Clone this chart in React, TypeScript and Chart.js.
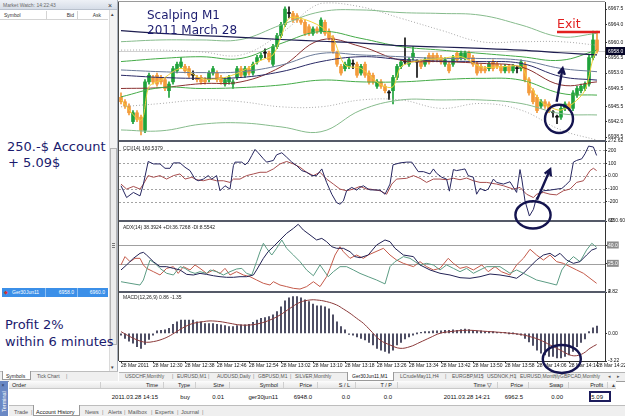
import React, { useEffect, useRef } from "react";
import { Chart, registerables } from "chart.js";

Chart.register(...registerables);

/* ================= data ================= */
// Ger30Jun11 M1 candles, bar 0 = 28 Mar 12:22
const opens = [
  6947.5, 6946.5, 6945.5, 6942.0, 6944.0, 6943.0, 6940.0, 6951.0, 6952.0, 6952.5,
  6952.0, 6951.5, 6949.0, 6951.0, 6953.5, 6954.5, 6954.5, 6954.0, 6952.5, 6952.0,
  6952.0, 6951.5, 6951.5, 6953.0, 6953.0, 6952.0, 6950.5, 6951.0, 6950.5, 6952.0,
  6954.0, 6952.5, 6954.0, 6953.0, 6955.5, 6956.5, 6957.5, 6957.5, 6955.0, 6959.0,
  6961.5, 6964.0, 6966.5, 6966.5, 6966.0, 6965.0, 6964.5, 6963.5, 6962.0, 6963.0,
  6962.5, 6964.5, 6962.5, 6961.0, 6957.5, 6954.5, 6954.0, 6954.5, 6955.0, 6955.0,
  6953.0, 6955.0, 6953.0, 6952.5, 6950.0, 6951.0, 6950.0, 6948.5, 6949.0, 6952.0,
  6954.5, 6955.5, 6955.0, 6956.5, 6955.5, 6955.5, 6955.0, 6957.0, 6957.0, 6957.0,
  6956.5, 6955.0, 6955.0, 6955.0, 6957.5, 6956.5, 6956.5, 6957.5, 6956.5, 6955.0,
  6954.5, 6954.0, 6954.0, 6955.5, 6955.0, 6954.5, 6953.5, 6954.5, 6953.5, 6954.0,
  6954.0, 6955.0, 6951.5, 6949.0, 6947.5, 6945.5, 6946.5, 6946.0, 6944.0, 6943.0,
  6943.0, 6945.0, 6946.0, 6945.0, 6948.0, 6949.0, 6949.5, 6950.5, 6956.5, 6960.5,
];
const highs = [
  6948.5, 6947.0, 6946.0, 6944.5, 6944.5, 6943.5, 6951.5, 6953.0, 6952.5, 6953.0,
  6952.5, 6952.0, 6951.0, 6954.5, 6955.5, 6956.5, 6955.0, 6954.5, 6953.5, 6952.5,
  6952.5, 6952.0, 6953.5, 6954.5, 6953.5, 6952.5, 6952.0, 6952.5, 6951.5, 6954.5,
  6954.5, 6954.5, 6954.5, 6955.5, 6957.0, 6957.5, 6958.5, 6958.0, 6959.5, 6962.0,
  6964.5, 6968.0, 6968.0, 6967.0, 6966.5, 6965.5, 6965.0, 6964.0, 6963.5, 6963.5,
  6965.5, 6965.0, 6963.0, 6961.5, 6958.0, 6955.0, 6955.5, 6956.5, 6956.0, 6955.5,
  6955.0, 6955.5, 6953.5, 6953.0, 6951.5, 6951.5, 6950.5, 6949.0, 6952.5, 6955.0,
  6956.0, 6961.0, 6956.5, 6959.0, 6956.0, 6956.0, 6956.5, 6957.5, 6957.5, 6957.5,
  6957.0, 6956.5, 6955.5, 6957.0, 6958.0, 6958.0, 6958.0, 6958.0, 6957.0, 6955.5,
  6955.0, 6954.5, 6955.5, 6956.0, 6955.5, 6955.0, 6955.0, 6955.0, 6955.0, 6954.5,
  6956.0, 6955.5, 6952.0, 6949.5, 6948.0, 6947.0, 6947.0, 6946.5, 6944.5, 6943.5,
  6945.5, 6946.5, 6946.5, 6949.0, 6950.0, 6950.5, 6951.0, 6957.0, 6962.5, 6962.5,
];
const lows = [
  6946.0, 6945.0, 6943.5, 6941.5, 6942.0, 6939.0, 6939.5, 6950.5, 6950.5, 6950.0,
  6950.5, 6949.0, 6947.5, 6950.5, 6953.0, 6954.0, 6953.0, 6952.0, 6951.5, 6951.0,
  6950.5, 6950.5, 6951.0, 6952.5, 6951.0, 6950.5, 6950.0, 6950.5, 6949.5, 6951.5,
  6952.0, 6952.0, 6952.5, 6952.5, 6955.0, 6956.0, 6956.5, 6955.5, 6954.5, 6958.5,
  6961.0, 6963.5, 6965.5, 6964.5, 6964.5, 6964.0, 6961.5, 6961.5, 6961.5, 6962.0,
  6962.0, 6961.5, 6960.5, 6957.5, 6954.5, 6952.5, 6953.5, 6954.0, 6954.0, 6952.0,
  6952.5, 6952.0, 6950.5, 6950.5, 6949.5, 6949.5, 6948.5, 6947.0, 6946.0, 6951.5,
  6954.0, 6955.0, 6954.5, 6956.0, 6952.0, 6954.0, 6954.5, 6955.0, 6955.5, 6955.5,
  6955.0, 6954.5, 6953.0, 6954.5, 6955.5, 6956.0, 6956.0, 6956.0, 6954.5, 6952.5,
  6953.0, 6953.0, 6953.5, 6953.5, 6954.0, 6953.0, 6953.0, 6953.0, 6953.0, 6953.0,
  6953.5, 6951.0, 6948.0, 6946.0, 6944.0, 6945.0, 6945.0, 6944.0, 6943.0, 6941.5,
  6942.5, 6944.5, 6944.5, 6944.5, 6947.5, 6948.5, 6949.0, 6950.0, 6956.0, 6957.5,
];
const closes = [
  6946.5, 6945.5, 6944.0, 6944.0, 6942.5, 6940.0, 6951.0, 6952.5, 6951.0, 6950.5,
  6951.0, 6949.5, 6950.5, 6954.0, 6955.0, 6955.5, 6953.5, 6952.5, 6952.5, 6951.5,
  6951.0, 6951.0, 6953.0, 6954.0, 6951.5, 6951.0, 6951.5, 6952.0, 6951.0, 6954.0,
  6952.5, 6954.0, 6953.0, 6955.0, 6956.5, 6957.0, 6957.5, 6956.0, 6959.0, 6961.5,
  6964.0, 6967.5, 6966.5, 6965.0, 6965.0, 6964.5, 6962.0, 6962.0, 6963.0, 6962.5,
  6965.0, 6962.0, 6961.0, 6958.0, 6955.0, 6953.0, 6955.0, 6956.0, 6955.0, 6952.5,
  6954.5, 6952.5, 6951.0, 6951.0, 6951.0, 6950.0, 6949.0, 6948.5, 6952.0, 6954.5,
  6955.5, 6955.5, 6956.0, 6957.5, 6955.5, 6954.5, 6956.0, 6955.5, 6956.0, 6956.0,
  6955.5, 6956.0, 6953.5, 6956.5, 6956.0, 6957.5, 6957.5, 6956.5, 6955.0, 6953.0,
  6953.5, 6953.5, 6955.0, 6954.0, 6954.5, 6953.5, 6954.5, 6953.5, 6954.5, 6954.0,
  6955.5, 6951.5, 6948.5, 6946.5, 6944.5, 6946.5, 6945.5, 6944.5, 6944.0, 6943.0,
  6945.0, 6946.0, 6945.0, 6948.5, 6949.5, 6950.0, 6950.5, 6956.5, 6960.5, 6958.0,
];
const bidPrice = 6958.0;

// price-pane indicator lines, sampled at these bars
const bandBars = [0, 10, 20, 30, 40, 50, 60, 70, 80, 90, 100, 110, 119];
const maSlow = [6962.6, 6962.0, 6961.5, 6961.1, 6960.6, 6960.2, 6959.8, 6959.2, 6958.9, 6958.6, 6958.2, 6957.6, 6957.1];
const bandOuterUp = [6960.1, 6960.5, 6960.5, 6960.6, 6963.9, 6966.9, 6967.3, 6966.7, 6966.5, 6966.1, 6963.9, 6961.2, 6962.0];
const bandInnerUp = [6955.6, 6956.3, 6956.7, 6956.3, 6959.7, 6962.4, 6960.85, 6959.0, 6958.2, 6957.45, 6956.7, 6955.9, 6958.2];
const bandInnerLow = [6947.6, 6949.7, 6949.5, 6949.7, 6950.3, 6951.4, 6951.0, 6951.0, 6951.5, 6951.8, 6951.4, 6948.4, 6948.0];
const bandOuterLow = [6940.1, 6939.9, 6941.4, 6941.7, 6940.8, 6939.7, 6944.6, 6946.9, 6946.9, 6946.9, 6946.1, 6943.8, 6943.5];
const envUp = [6958.2, 6958.2, 6957.8, 6957.1, 6962.0, 6968.8, 6968.0, 6965.4, 6962.7, 6960.1, 6960.1, 6960.1, 6959.3];
const envLow = [6945.35, 6946.1, 6946.9, 6946.5, 6945.35, 6945.35, 6946.9, 6946.9, 6945.0, 6946.1, 6944.6, 6940.1, 6937.8];
const maMid = [6952.5, 6952.0, 6951.8, 6952.0, 6953.3, 6955.6, 6956.7, 6956.1, 6955.7, 6955.6, 6955.2, 6952.2, 6951.4];
const maSlate = [6953.7, 6953.3, 6953.1, 6953.3, 6954.8, 6957.45, 6957.1, 6956.7, 6956.3, 6956.3, 6955.9, 6954.05, 6953.3];
const maMaroon = [6949.5, 6949.7, 6950.6, 6951.0, 6954.4, 6960.5, 6959.0, 6955.9, 6955.6, 6955.2, 6954.4, 6950.3, 6951.0];
const fastBars = [0, 5, 7, 10, 15, 20, 25, 30, 35, 38, 40, 42, 45, 50, 53, 56, 60, 65, 68, 70, 75, 80, 85, 90, 95, 100, 102, 105, 108, 110, 113, 116, 118, 119];
const fastMa = [6946.9, 6942.3, 6949.9, 6951.4, 6954.05, 6951.8, 6951.8, 6953.3, 6955.9, 6957.1, 6961.2, 6965.4, 6965.4, 6963.5, 6960.85, 6954.8, 6954.05, 6950.3, 6949.9, 6954.4, 6955.9, 6956.3, 6956.7, 6954.4, 6954.4, 6954.4, 6950.6, 6946.5, 6945.0, 6944.6, 6946.1, 6949.1, 6956.3, 6958.2];

// CCI(14) pane
const cciBars = [0, 1.4, 3.1, 4.75, 5.6, 6.8, 8.1, 9.75, 11, 12.25, 13.1, 14.75, 16, 17.25, 18.5, 19.3, 20.6, 21.8, 22.7, 23.9, 24.75, 26, 27.25, 28.1, 28.5, 30.2, 31, 31.8, 32.7, 33.5, 34.3, 35.6, 36.4, 38.1, 38.9, 40.2, 41.4, 42.7, 43.9, 45.2, 46.4, 47.7, 48.9, 50.2, 51.4, 52.7, 53.9, 54.75, 55.6, 56.4, 57.7, 58.9, 59.75, 60.6, 61.8, 62.25, 64.75, 66, 67.25, 68, 69.75, 71.4, 72.7, 74.3, 75.6, 77.25, 78.1, 78.9, 80.2, 81.4, 82.1, 83.1, 83.9, 85.2, 86, 86.8, 88.1, 88.9, 89.75, 91, 91.8, 93.1, 93.9, 95.6, 97.25, 98.9, 99.75, 100.2, 101, 102.1, 103.1, 103.9, 105.6, 107.25, 108.9, 110.2, 111, 112.25, 113.1, 113.9, 115.2, 116, 116.9, 118.1, 118.9];
const cciMain = [-76, -168, -128, -155, -63, 113, 94, 94, 60, 60, 102, 102, 68, 42, -24, -37, -24, 3, -24, 3, -115, -76, -102, 81, 108, 108, 87, 108, 160, 207, 181, 134, 108, 121, 165, 181, 147, 108, 81, 42, 29, 3, 3, 55, -50, -142, -207, -220, -194, -115, -89, -110, -89, -76, -102, -108, -110, -142, -63, 87, 102, 108, 108, 34, 34, 16, 55, 21, -10, -24, -118, 50, 42, 50, 55, 3, -10, -142, -97, -115, -102, -24, -50, -63, -45, -128, 50, -24, -194, -312, -260, -168, -115, -110, -102, -97, -76, -37, 108, 121, 134, 173, 233, 226, 160];
const cciSignalBars = [0, 1.4, 3.1, 4.75, 5.6, 6.8, 8.1, 9.75, 11.4, 13.1, 14.75, 16, 17.7, 18.9, 20.6, 22.25, 23.9, 25.6, 27.25, 28.1, 29.75, 31.4, 33.1, 34.75, 36.4, 38.1, 39.75, 41.4, 43.1, 44.75, 46.4, 48.1, 49.75, 51.4, 53.1, 54.75, 56.4, 58.1, 59.75, 61.4, 62.25, 64.75, 66.4, 67.7, 68.9, 71.4, 73.1, 74.75, 76.4, 78.1, 79.75, 81.4, 83.1, 84.75, 86.4, 88.1, 89.75, 91.4, 93.9, 95.6, 98.1, 99.75, 101.4, 103.1, 103.9, 105.6, 107.25, 108.9, 110.6, 112.25, 113.9, 115.6, 117.25, 118.1, 118.9];
const cciSignal = [-63, -102, -81, -102, -63, 3, -10, 3, -24, 3, 16, -24, -10, -29, -37, -24, -37, -37, -50, -24, -24, 3, 16, 29, 29, 55, 94, 113, 94, 68, 29, 3, 29, -24, -63, -102, -115, -102, -81, -102, -102, -115, -142, -63, -24, -18, 3, -18, -50, -24, -24, -29, -18, -29, -16, -37, -50, -50, -63, -76, -102, -89, -142, -168, -142, -128, -142, -147, -115, -102, -50, -37, 42, 60, 42];
const cciTicks = [272.62, 200, 100, 0, -100, -200, -350.602];
const cciTickLabels = ["272.62", "200", "100", "0.00", "-100", "-200", "-350.602"];
const cciLevels = [200, 100, 0, -100, -200];

// ADX(14) pane
const adxBars = [0, 1.4, 3.1, 4.75, 5.6, 6.4, 8.1, 9.75, 11.4, 13.1, 14.75, 16.4, 18.1, 19.75, 21.4, 23.1, 24.75, 26.4, 28.1, 29.75, 31.4, 33.1, 33.9, 35.6, 36.8, 38.1, 39.75, 41.4, 43.1, 44.3, 45.6, 47.25, 48.9, 50.2, 51.4, 52.7, 53.9, 55.6, 57.25, 58.5, 59.75, 61.8, 63.9, 66, 67.25, 68.5, 70.6, 73.1, 74.75, 77.25, 79.75, 82.25, 84.75, 87.25, 89.75, 92.25, 94.75, 97.25, 98.9, 100.6, 102.25, 103.9, 105.6, 107.25, 108.5, 109.75, 111.4, 113.1, 114.75, 116.4, 117.7, 118.9];
const adxMain = [20.0, 24.1, 29.5, 33.6, 34.4, 32.2, 26.8, 22.7, 22.7, 21.3, 20.0, 16.4, 15.9, 17.2, 16.4, 15.3, 14.5, 14.0, 14.0, 14.5, 14.5, 15.9, 20.0, 29.5, 35.0, 39.0, 44.5, 49.9, 54.0, 57.3, 52.6, 48.6, 44.5, 45.8, 43.1, 39.0, 37.7, 37.7, 34.9, 30.9, 30.0, 32.2, 40.4, 44.5, 43.1, 37.7, 32.2, 30.9, 24.1, 20.0, 17.3, 15.9, 13.7, 13.2, 14.5, 16.7, 15.9, 14.5, 13.2, 17.3, 22.7, 28.1, 32.2, 33.6, 30.9, 33.6, 28.1, 25.4, 26.8, 32.2, 36.3, 37.7];
const plusDiBars = [0, 2.25, 4.75, 5.6, 6.4, 7.25, 8.5, 9.75, 11.4, 13.1, 14.75, 16, 17.25, 18.5, 19.75, 21.4, 22.25, 23.9, 25.6, 27.25, 28.9, 30.2, 31.4, 32.7, 33.9, 34.75, 35.6, 36.4, 37.7, 38.9, 40.2, 41.4, 43.1, 44.75, 46.4, 48.1, 49.75, 51.8, 53.1, 54.75, 56.4, 58.1, 59.75, 61.8, 63.9, 66, 67.25, 68.5, 70.6, 72.25, 74.75, 76.4, 78.1, 79.75, 81.4, 83.1, 84.75, 86.4, 88.1, 91.4, 94.75, 97.25, 98.9, 100.6, 103.9, 107.25, 108.9, 110.2, 111.4, 113.1, 114.75, 116.4, 117.7, 118.9];
const plusDi = [10.4, 9.1, 7.7, 11.8, 20.0, 28.1, 25.4, 21.3, 17.3, 15.9, 22.7, 21.3, 18.6, 17.2, 18.6, 17.2, 20.0, 18.6, 15.9, 18.6, 20.8, 21.3, 17.2, 15.9, 26.8, 34.9, 41.8, 37.7, 32.2, 37.7, 44.5, 37.7, 32.2, 26.8, 20.0, 15.3, 24.1, 14.5, 18.6, 22.7, 22.7, 20.0, 17.2, 14.5, 11.8, 8.6, 22.7, 26.8, 30.9, 29.5, 24.1, 25.4, 24.1, 20.0, 24.1, 21.3, 18.6, 21.3, 17.3, 22.7, 22.7, 17.3, 20.0, 17.3, 11.8, 9.1, 7.7, 20.0, 25.4, 30.9, 26.8, 36.3, 41.8, 38.5];
const minusDiBars = [0, 1, 2.25, 3.5, 4.75, 5.6, 6.4, 8.1, 9.75, 11.4, 13.1, 14.3, 15.6, 17.25, 18.5, 19.75, 21.4, 23.1, 24.75, 26, 27.25, 28.9, 30.6, 32.25, 33.9, 35.6, 37.25, 38.1, 39.75, 41.4, 43.1, 44.75, 46.4, 48.1, 49.75, 51.4, 52.25, 53.5, 54.75, 55.6, 57.25, 58.9, 60.6, 61.8, 65.6, 67.25, 68.9, 70.6, 73.1, 74.75, 76.4, 78.1, 79.75, 81.8, 83.1, 84.75, 86.4, 88.1, 90.2, 91.8, 93.5, 95.1, 97.25, 98.9, 100.6, 102.25, 103.9, 105.6, 107.25, 108.9, 110.6, 112.25, 113.9, 115.6, 117.25, 118.9];
const minusDi = [24.1, 30.9, 26.8, 29.5, 29.5, 24.1, 21.3, 18.6, 15.9, 21.3, 22.7, 17.2, 22.7, 20.0, 24.1, 21.3, 17.2, 20.0, 17.2, 21.3, 15.9, 18.6, 15.9, 14.5, 11.8, 9.1, 7.7, 10.4, 7.7, 6.4, 5.0, 4.4, 6.4, 10.4, 6.4, 14.5, 21.3, 32.2, 39.0, 34.9, 29.5, 32.2, 29.5, 32.2, 37.7, 32.2, 28.1, 25.4, 22.7, 26.8, 22.7, 20.0, 21.3, 29.5, 25.4, 21.3, 22.7, 20.0, 24.1, 18.6, 22.7, 18.6, 15.9, 24.1, 29.5, 36.9, 32.2, 28.1, 32.2, 26.8, 25.4, 22.7, 20.0, 17.3, 13.2, 9.1];
const adxTicks = [60, 40, 25, 2];
const adxTickLabels = ["60", "40.0", "25.0", "2"];
const adxLevels = [40, 25];

// MACD(12,26,9) pane
const macdHist = [
  -0.2, -0.6, -0.9, -1.15, -1.55, -1.75, -1.3, -0.7, -0.2, 0.3,
  0.35, 0.4, 0.6, 1.05, 1.35, 1.55, 1.55, 1.55, 1.55, 1.35,
  1.35, 1.15, 1.15, 1.15, 1.05, 1.0, 0.9, 0.8, 0.8, 0.9,
  1.0, 1.0, 1.05, 1.3, 1.55, 1.75, 1.85, 1.95, 2.15, 2.55,
  3.1, 3.8, 4.15, 4.3, 4.3, 4.15, 3.9, 3.7, 3.4, 3.2,
  3.2, 3.1, 2.85, 2.15, 1.35, 0.8, 0.4, -0.1, -0.2, -0.4,
  -0.6, -0.75, -1.05, -1.35, -1.75, -1.95, -2.1, -2.3, -1.95, -1.35,
  -1.05, -0.65, -0.4, -0.2, 0, 0.1, 0.2, 0.2, 0.3, 0.3,
  0.3, 0.35, 0.35, 0.4, 0.35, 0.45, 0.5, 0.45, 0.35, 0.3,
  0.3, 0.2, 0.2, 0.2, 0.1, 0.1, 0.1, 0, 0, -0.1,
  -0.2, -0.6, -1.0, -1.4, -1.95, -2.3, -2.5, -2.7, -2.7, -2.85,
  -2.85, -2.7, -2.5, -2.1, -1.55, -1.05, -0.65, 0.2, 0.65, 0.86,
];
const signalBars = [0, 2.25, 4.75, 6.4, 8.1, 9.75, 11.8, 13.9, 16, 18.1, 20.6, 22.25, 24.75, 27.25, 29.75, 32.25, 34.75, 37.25, 39.75, 42.25, 44.75, 47.25, 48.9, 51.4, 53.9, 55.6, 57.25, 58.9, 60.6, 62.25, 64.75, 67.25, 69.75, 72.25, 74.75, 77.25, 79.75, 82.25, 84.75, 87.25, 89.75, 92.25, 94.75, 97.25, 99.75, 102.25, 104.75, 107.25, 109.75, 112.25, 113.9, 115.6, 117.25, 118.9];
const macdSignal = [0.2, -0.38, -0.89, -1.04, -0.96, -0.77, -0.38, 0.2, 0.78, 1.17, 1.37, 1.45, 1.37, 1.17, 0.98, 0.98, 1.17, 1.56, 2.14, 2.92, 3.62, 3.89, 3.89, 3.7, 3.31, 2.84, 2.34, 1.76, 1.17, 0.4, -0.77, -1.35, -1.74, -1.55, -1.04, -0.5, 0.01, 0.2, 0.32, 0.36, 0.28, 0.2, 0.12, 0.01, -0.11, -0.38, -0.77, -1.35, -1.93, -2.52, -2.6, -2.32, -1.74, -1.3];
const macdTicks = [4.82, 0, -3.22];
const macdTickLabels = ["4.82", "0.00", "-3.22"];

// price axis and time axis
const mainTicks = [6967.5, 6964.0, 6960.0, 6956.5, 6953.0, 6949.5, 6945.5, 6942.0, 6938.5];
const timeTickBars = [0, 8, 16, 24, 32, 40, 48, 56, 64, 72, 80, 88, 96, 104, 112, 119];
const timeLabels = ["28 Mar 2011", "28 Mar 12:30", "28 Mar 12:38", "28 Mar 12:46", "28 Mar 12:54", "28 Mar 13:02", "28 Mar 13:10", "28 Mar 13:18", "28 Mar 13:26", "28 Mar 13:34", "28 Mar 13:42", "28 Mar 13:50", "28 Mar 13:58", "28 Mar 14:06", "28 Mar 14:14", "28 Mar 14:22"];

// hand-drawn marks (in data coordinates of their pane)
const circleNotes = [
  { axis: "yMain", x: 109.5, y: 6942.6, rx: 3.5, ry: 3.2 },
  { axis: "yCci", x: 103, y: -303, rx: 4.4, ry: 106 },
  { axis: "yMacd", x: 110.2, y: -2.98, rx: 4.75, ry: 1.63 },
];
const arrowNotes = [
  { axis: "yMain", x1: 108.9, y1: 6946.5, x2: 110.4, y2: 6954.1 },
  { axis: "yCci", x1: 104, y1: -185, x2: 107.3, y2: 52 },
];
const exitMark = { from: 109, to: 119.75, price: 6962.3 };

/* ================= styling ================= */
const FONT = '"Liberation Sans", Arial, sans-serif';
const BIG = '"DejaVu Sans", Verdana, sans-serif';
const NAVY = "#1b1b6e";
const UP = "#1fa33b";
const DOWN = "#f39a3a";
const DOJI = "#111111";

const mtPlugin = {
  id: "mtOverlay",
  beforeDatasetsDraw(chart: any) {
    const { ctx, chartArea: a, scales } = chart;
    const hline = (y: number) => {
      const yy = Math.round(y) + 0.5;
      ctx.beginPath();
      ctx.moveTo(a.left, yy);
      ctx.lineTo(a.right, yy);
      ctx.stroke();
    };
    ctx.save();
    ctx.lineWidth = 1;
    ctx.strokeStyle = "#a3a3a3";
    ctx.setLineDash([2, 2]);
    cciLevels.forEach((v) => hline(scales.yCci.getPixelForValue(v)));
    ctx.setLineDash([]);
    ctx.strokeStyle = "#a0a0a0";
    adxLevels.forEach((v) => hline(scales.yAdx.getPixelForValue(v)));
    ctx.strokeStyle = "#d0d0d0";
    hline(scales.yMain.getPixelForValue(bidPrice));
    ctx.restore();
  },
  afterDraw(chart: any) {
    const { ctx, chartArea: a, scales, width } = chart;
    const xs = scales.x;
    ctx.save();
    // pane separators
    ctx.fillStyle = "#555a68";
    [scales.yMain, scales.yCci, scales.yAdx].forEach((s: any) => {
      ctx.fillRect(a.left - 1, Math.round(s.bottom) - 1, a.right - a.left + 2, 2);
    });
    // frame
    ctx.fillStyle = "#4a4a4a";
    ctx.fillRect(a.left - 1, a.top - 1, 1, a.bottom - a.top + 1);
    ctx.fillStyle = "#9a9a9a";
    ctx.fillRect(a.left - 1, a.top - 1, a.right - a.left + 1, 1);
    // bid price box on the axis
    const yb = Math.round(scales.yMain.getPixelForValue(bidPrice));
    ctx.fillStyle = "#050528";
    ctx.fillRect(a.right + 1, yb - 4, width - a.right - 1, 8);
    ctx.fillStyle = "#ffffff";
    ctx.font = `5px ${FONT}`;
    ctx.textBaseline = "middle";
    ctx.textAlign = "left";
    ctx.fillText(bidPrice.toFixed(1), a.right + 3, yb + 0.5);
    // exit line
    ctx.strokeStyle = "#e21f1f";
    ctx.lineWidth = 2.5;
    const ye = scales.yMain.getPixelForValue(exitMark.price);
    ctx.beginPath();
    ctx.moveTo(xs.getPixelForValue(exitMark.from), ye);
    ctx.lineTo(xs.getPixelForValue(exitMark.to), ye);
    ctx.stroke();
    // ellipses
    ctx.strokeStyle = "#14144f";
    ctx.lineWidth = 2.4;
    circleNotes.forEach((c) => {
      const s = scales[c.axis];
      const cx = xs.getPixelForValue(c.x);
      const cy = s.getPixelForValue(c.y);
      const rx = Math.abs(xs.getPixelForValue(c.x + c.rx) - cx);
      const ry = Math.abs(s.getPixelForValue(c.y + c.ry) - cy);
      ctx.beginPath();
      ctx.ellipse(cx, cy, rx, ry, 0, 0, Math.PI * 2);
      ctx.stroke();
    });
    // arrows
    arrowNotes.forEach((ar) => {
      const s = scales[ar.axis];
      const x1 = xs.getPixelForValue(ar.x1), y1 = s.getPixelForValue(ar.y1);
      const x2 = xs.getPixelForValue(ar.x2), y2 = s.getPixelForValue(ar.y2);
      const ang = Math.atan2(y2 - y1, x2 - x1);
      ctx.beginPath();
      ctx.moveTo(x1, y1);
      ctx.lineTo(x2, y2);
      ctx.moveTo(x2 - 7 * Math.cos(ang - 0.5), y2 - 7 * Math.sin(ang - 0.5));
      ctx.lineTo(x2, y2);
      ctx.lineTo(x2 - 7 * Math.cos(ang + 0.5), y2 - 7 * Math.sin(ang + 0.5));
      ctx.stroke();
    });
    ctx.restore();
  },
};

function buildConfig(): any {
  const colors = opens.map((o, i) => (closes[i] > o ? UP : closes[i] < o ? DOWN : DOJI));
  const pts = (xs: number[], ys: number[]) => xs.map((x, i) => ({ x, y: ys[i] }));
  const line = (label: string, data: any[], yAxisID: string, color: string, extra: any = {}) => ({
    type: "line", label, data, yAxisID, borderColor: color, borderWidth: 1, pointRadius: 0, tension: 0, fill: false, ...extra,
  });
  const tickFont = { family: FONT, size: 5 };
  const yAxis = (weight: number, stackWeight: number, min: number, max: number, values: number[], labels: string[], extraTicks: any = {}) => ({
    type: "linear", position: "right", stack: "panes", stackWeight, weight, min, max, bounds: "data", beginAtZero: false,
    afterBuildTicks: (s: any) => { s.ticks = values.map((v) => ({ value: v })); },
    afterFit: (s: any) => { s.width = 20; s.paddingTop = 0; s.paddingBottom = 0; },
    ticks: { autoSkip: false, padding: 1, font: tickFont, color: "#111", callback: (_v: any, i: number) => labels[i], ...extraTicks },
    grid: { display: true, drawOnChartArea: false, drawTicks: true, tickLength: 2, color: "#333" },
    border: { display: true, color: "#333", width: 1 },
  });

  return {
    type: "bar",
    data: {
      datasets: [
        line("Fast MA", pts(fastBars, fastMa), "yMain", "#f0d23a", { tension: 0.3 }),
        line("MA slow", pts(bandBars, maSlow), "yMain", "#1e1e50", { tension: 0.4, borderWidth: 1.2 }),
        line("BB outer upper", pts(bandBars, bandOuterUp), "yMain", "#86bb8c", { tension: 0.4 }),
        line("BB inner upper", pts(bandBars, bandInnerUp), "yMain", "#45ab48", { tension: 0.4 }),
        line("BB inner lower", pts(bandBars, bandInnerLow), "yMain", "#45ab48", { tension: 0.4 }),
        line("BB outer lower", pts(bandBars, bandOuterLow), "yMain", "#86bb8c", { tension: 0.4 }),
        line("Envelope upper", pts(bandBars, envUp), "yMain", "#a8a8a8", { tension: 0.4, borderDash: [1, 2] }),
        line("Envelope lower", pts(bandBars, envLow), "yMain", "#a8a8a8", { tension: 0.4, borderDash: [1, 2] }),
        line("MA mid", pts(bandBars, maMid), "yMain", "#2a2a66", { tension: 0.4 }),
        line("MA slate", pts(bandBars, maSlate), "yMain", "#6a7a98", { tension: 0.4 }),
        line("MA maroon", pts(bandBars, maMaroon), "yMain", "#8a3030", { tension: 0.4 }),
        {
          type: "bar", label: "Bodies", yAxisID: "yMain", grouped: false, barThickness: 3, minBarLength: 1,
          data: opens.map((o, i) => ({ x: i, y: [o, closes[i]] })), backgroundColor: colors,
        },
        {
          type: "bar", label: "Wicks", yAxisID: "yMain", grouped: false, barThickness: 1,
          data: lows.map((l, i) => ({ x: i, y: [l, highs[i]] })), backgroundColor: colors,
        },
        line("CCI(14)", pts(cciBars, cciMain), "yCci", "#262660"),
        line("CCI signal", pts(cciSignalBars, cciSignal), "yCci", "#a84e4e"),
        line("ADX", pts(adxBars, adxMain), "yAdx", "#222255"),
        line("+DI", pts(plusDiBars, plusDi), "yAdx", "#5c9c84"),
        line("-DI", pts(minusDiBars, minusDi), "yAdx", "#c45a4a"),
        line("Signal", pts(signalBars, macdSignal), "yMacd", "#8b3a3a", { tension: 0.4 }),
        {
          type: "bar", label: "MACD", yAxisID: "yMacd", grouped: false, barThickness: 1, minBarLength: 1,
          data: macdHist.map((v, i) => ({ x: i, y: v })), backgroundColor: "#2b2b45",
        },
      ],
    },
    options: {
      animation: false,
      responsive: false,
      maintainAspectRatio: false,
      events: [],
      layout: { padding: { left: 6, top: 2, right: 0, bottom: 44 } },
      plugins: { legend: { display: false }, tooltip: { enabled: false } },
      scales: {
        x: {
          type: "linear", position: "bottom", min: -0.5, max: 121, offset: false, bounds: "data",
          afterBuildTicks: (s: any) => { s.ticks = timeTickBars.map((v) => ({ value: v })); },
          afterFit: (s: any) => { s.height = 11; s.paddingLeft = 0; s.paddingRight = 0; },
          ticks: { autoSkip: false, maxRotation: 0, minRotation: 0, align: "start", padding: 0, font: tickFont, color: "#111", callback: (_v: any, i: number) => timeLabels[i] },
          grid: { display: true, drawOnChartArea: false, drawTicks: true, tickLength: 2, color: "#333", offset: false },
          border: { display: true, color: "#333" },
        },
        yMain: yAxis(1, 139, 6937.6, 6969.1, mainTicks, mainTicks.map((v) => v.toFixed(1))),
        yCci: yAxis(2, 80, -350.602, 272.62, cciTicks, cciTickLabels),
        yAdx: yAxis(3, 71, 2, 60, adxTicks, adxTickLabels, {
          showLabelBackdrop: true,
          backdropPadding: { top: 1, bottom: 0, left: 1, right: 1 },
          backdropColor: (c: any) => (c.index === 1 || c.index === 2 ? "#8c8c8c" : "rgba(0,0,0,0)"),
          color: (c: any) => (c.index === 1 || c.index === 2 ? "#ffffff" : "#111111"),
        }),
        yMacd: yAxis(4, 69, -3.22, 4.82, macdTicks, macdTickLabels),
      },
    },
    plugins: [mtPlugin],
  };
}

/* ================= static UI text ================= */
const chartTabs: [string, number][] = [
  ["USDCHF,Monthly", 125], ["EURUSD,M1", 177], ["AUDUSD,Daily", 217], ["GBPUSD,M1", 258], ["SILVER,Monthly", 295],
  ["Ger30Jun11,M1", 352], ["LCrudeMay11,H4", 400], ["EURGBP,M15", 452], ["USDNOK,H1", 487], ["EURUSD,Monthly", 520], ["GBPCAD,Monthly", 560],
];
const chartTabSeps = [172, 208, 253, 290, 445, 482, 515, 555];
const termHead: [string, number][] = [
  ["Time", 158], ["Type", 190], ["Size", 224], ["Symbol", 278], ["Price", 312], ["S / L", 350], ["T / P", 392], ["Time  \u25BD", 492], ["Price", 523], ["Swap", 563], ["Profit", 603],
];
const termRow: [string, number][] = [
  ["2011.03.28 14:15", 158], ["buy", 190], ["0.01", 224], ["ger30jun11", 278], ["6948.0", 312], ["0.0", 350], ["0.0", 392], ["2011.03.28 14:21", 490], ["6962.5", 523], ["0.00", 563], ["5.09", 603],
];
const termSeps = [100, 163, 195, 229, 283, 317, 355, 397, 497, 528, 568, 607];
const bottomTabs: [string, number][] = [
  ["Trade", 14], ["News", 85], ["Alerts", 108], ["Mailbox", 128], ["Experts", 155], ["Journal", 181],
];
const bottomTabSeps = [31, 102, 124, 151, 177, 202];

function Txt(props: { x?: number; r?: number; y: number; size?: number; color?: string; family?: string; lh?: number; children: any; weight?: any }) {
  const { x, r, y, size = 5.5, color = "#222", family = FONT, lh, children, weight } = props;
  const style: any = {
    position: "absolute", top: y, fontSize: size, lineHeight: `${lh ?? Math.ceil(size + 2)}px`, color, fontFamily: family,
    whiteSpace: "nowrap", fontWeight: weight ?? "normal",
  };
  if (r !== undefined) style.right = 625 - r; else style.left = x;
  return <div style={style}>{children}</div>;
}

export default function App() {
  const ref = useRef<HTMLCanvasElement | null>(null);
  useEffect(() => {
    if (!ref.current) return;
    const chart = new Chart(ref.current, buildConfig());
    return () => chart.destroy();
  }, []);

  return (
    <div style={{ position: "fixed", left: 0, top: 0, width: 625, height: 416, background: "#ffffff", overflow: "hidden", fontFamily: FONT }}>
      {/* ---------- Market Watch panel ---------- */}
      <div style={{ position: "absolute", left: 0, top: 0, width: 118, height: 381, background: "#fff", borderRight: "1px solid #a9b0bb", boxSizing: "border-box" }} />
      <div style={{ position: "absolute", left: 0, top: 0, width: 117, height: 10, background: "linear-gradient(#eef1f6,#d6dde8)", borderBottom: "1px solid #b9c1cd", boxSizing: "border-box" }} />
      <Txt x={3} y={1.5} size={5} color="#6a6a6a">Market Watch: 14:22:43</Txt>
      <Txt x={108} y={0.5} size={7} color="#333">×</Txt>
      <div style={{ position: "absolute", left: 0, top: 10, width: 108, height: 9, borderBottom: "1px solid #d4d4d4", background: "#fff" }} />
      <div style={{ position: "absolute", left: 46, top: 11, width: 1, height: 8, background: "#d4d4d4" }} />
      <div style={{ position: "absolute", left: 77, top: 11, width: 1, height: 8, background: "#d4d4d4" }} />
      <Txt x={4} y={11.5} size={5} color="#333">Symbol</Txt>
      <Txt r={74} y={11.5} size={5} color="#333">Bid</Txt>
      <Txt r={101} y={11.5} size={5} color="#333">Ask</Txt>
      {/* scrollbar */}
      <div style={{ position: "absolute", left: 109, top: 10, width: 8, height: 361, background: "#f3f3f3", borderLeft: "1px solid #dadada", boxSizing: "border-box" }} />
      <Txt x={110} y={11} size={4.5} color="#444">▲</Txt>
      <Txt x={110} y={364} size={4.5} color="#444">▼</Txt>
      <div style={{ position: "absolute", left: 110, top: 148, width: 7, height: 197, background: "#ececec", border: "1px solid #b4b4b4", boxSizing: "border-box" }} />
      <div style={{ position: "absolute", left: 112, top: 243, width: 3, height: 1, background: "#777" }} />
      <div style={{ position: "absolute", left: 112, top: 245, width: 3, height: 1, background: "#777" }} />
      <div style={{ position: "absolute", left: 112, top: 247, width: 3, height: 1, background: "#777" }} />
      {/* highlighted symbol row */}
      <div style={{ position: "absolute", left: 2, top: 288, width: 106, height: 9, background: "#3b8fe8" }} />
      <div style={{ position: "absolute", left: 45, top: 288, width: 1, height: 9, background: "#8fc0f3" }} />
      <div style={{ position: "absolute", left: 77, top: 288, width: 1, height: 9, background: "#8fc0f3" }} />
      <Txt x={4} y={288.5} size={5} color="#d9302c">◆</Txt>
      <Txt x={12} y={288.5} size={5} color="#ffffff">Ger30Jun11</Txt>
      <Txt r={74} y={288.5} size={5} color="#ffffff">6958.0</Txt>
      <Txt r={105} y={288.5} size={5} color="#ffffff">6960.0</Txt>
      {/* hand-written notes */}
      <Txt x={7} y={139} size={13} lh={16} family={BIG} color={NAVY}>250.-$ Account</Txt>
      <Txt x={8} y={155} size={13} lh={16} family={BIG} color={NAVY}>+ 5.09$</Txt>
      <Txt x={5} y={316} size={13} lh={17} family={BIG} color={NAVY}>Profit 2%</Txt>
      <Txt x={5} y={333} size={13} lh={17} family={BIG} color={NAVY}>within 6 minutes</Txt>
      {/* Symbols / Tick Chart tabs */}
      <div style={{ position: "absolute", left: 0, top: 371, width: 118, height: 10, background: "#efefef", borderTop: "1px solid #bdbdbd", boxSizing: "border-box" }} />
      <div style={{ position: "absolute", left: 2, top: 371, width: 29, height: 9, background: "#fff", border: "1px solid #9a9a9a", borderTop: "none", boxSizing: "border-box" }} />
      <Txt x={6} y={372.5} size={5} color="#222">Symbols</Txt>
      <Txt x={37} y={372.5} size={5} color="#555">Tick Chart</Txt>
      <Txt x={66} y={372.5} size={5} color="#888">|</Txt>

      {/* ---------- chart tab bar ---------- */}
      <div style={{ position: "absolute", left: 119, top: 372, width: 506, height: 9, background: "#efefef", borderTop: "1px solid #b5b5b5", boxSizing: "border-box" }} />
      <div style={{ position: "absolute", left: 347, top: 372, width: 47, height: 9, background: "#fff", border: "1px solid #9a9a9a", borderTop: "none", boxSizing: "border-box" }} />
      <div style={{ position: "absolute", left: 119, top: 372, width: 485, height: 9, overflow: "hidden" }}>
        {chartTabs.map(([t, x]) => (
          <div key={t + x} style={{ position: "absolute", left: x - 119, top: 1, fontSize: 5, lineHeight: "7px", color: t === "Ger30Jun11,M1" ? "#111" : "#555", whiteSpace: "nowrap" }}>{t}</div>
        ))}
        {chartTabSeps.map((x) => (
          <div key={x} style={{ position: "absolute", left: x - 119, top: 1, fontSize: 5, lineHeight: "7px", color: "#888" }}>|</div>
        ))}
      </div>
      <Txt x={608} y={373} size={5} color="#555">◂</Txt>
      <Txt x={617} y={373} size={5} color="#555">▸</Txt>

      {/* ---------- terminal ---------- */}
      <div style={{ position: "absolute", left: 0, top: 381, width: 625, height: 35, background: "#ffffff", borderTop: "1px solid #9c9c9c", boxSizing: "border-box" }} />
      <div style={{ position: "absolute", left: 9, top: 381, width: 607, height: 8, background: "linear-gradient(#fcfcfc,#e7e7e7)", borderBottom: "1px solid #c9c9c9", boxSizing: "border-box" }} />
      {termSeps.map((x) => (
        <div key={x} style={{ position: "absolute", left: x, top: 382, width: 1, height: 6, background: "#cfcfcf" }} />
      ))}
      <Txt x={12} y={381} size={5.5} color="#222">Order</Txt>
      {termHead.map(([t, r], i) => (
        <Txt key={"h" + i} r={r} y={381} size={5.5} color="#222">{t}</Txt>
      ))}
      {termRow.map(([t, r], i) => (
        <Txt key={"d" + i} r={r} y={392.5} size={6} color="#111">{t}</Txt>
      ))}
      <div style={{ position: "absolute", left: 589, top: 391, width: 22, height: 11, border: "2px solid #1c1c5c", boxSizing: "border-box" }} />
      <Txt x={611} y={382} size={5} color="#444">▲</Txt>
      <div style={{ position: "absolute", left: 0, top: 381, width: 8, height: 35, background: "#6a88c4" }} />
      <Txt x={1.5} y={381.5} size={5} color="#1c2a50">×</Txt>
      <div style={{ position: "absolute", left: 0, top: 414, width: 8, transform: "rotate(-90deg)", transformOrigin: "0 0", fontSize: 5.5, lineHeight: "8px", color: "#ffffff", whiteSpace: "nowrap", paddingLeft: 2 }}>Terminal</div>
      {/* bottom tabs */}
      <div style={{ position: "absolute", left: 9, top: 405, width: 616, height: 11, background: "#efefef", borderTop: "1px solid #bdbdbd", boxSizing: "border-box" }} />
      <div style={{ position: "absolute", left: 33, top: 405, width: 47, height: 11, background: "#fff", border: "1px solid #9a9a9a", borderTop: "none", boxSizing: "border-box" }} />
      <Txt x={36} y={407.5} size={5.5} color="#111">Account History</Txt>
      {bottomTabs.map(([t, x]) => (
        <Txt key={t} x={x} y={407.5} size={5.5} color="#555">{t}</Txt>
      ))}
      {bottomTabSeps.map((x) => (
        <Txt key={"s" + x} x={x} y={407.5} size={5.5} color="#888">|</Txt>
      ))}

      {/* ---------- the chart ---------- */}
      <canvas ref={ref} width={512} height={416} style={{ position: "absolute", left: 113, top: 0, width: 512, height: 416, zIndex: 5 }} />

      {/* pane captions and annotations */}
      <div style={{ position: "absolute", left: 0, top: 0, width: 625, height: 416, zIndex: 6, pointerEvents: "none" }}>
        <Txt x={123} y={144.5} size={5} color="#222">CCI(14) 160.5379</Txt>
        <Txt x={123} y={223.5} size={5} color="#222">ADX(14) 38.3924 +DI:36.7268 -DI:8.5542</Txt>
        <Txt x={123} y={294} size={5} color="#222">MACD(12,26,9) 0.86 -1.35</Txt>
        <Txt x={147} y={8} size={12} lh={15} family={BIG} color={NAVY}>Scalping M1</Txt>
        <Txt x={147} y={23} size={12} lh={15} family={BIG} color={NAVY}>2011 March 28</Txt>
        <Txt x={557} y={15.5} size={12.5} lh={15} family={BIG} color="#e21f1f">Exit</Txt>
      </div>
    </div>
  );
}
